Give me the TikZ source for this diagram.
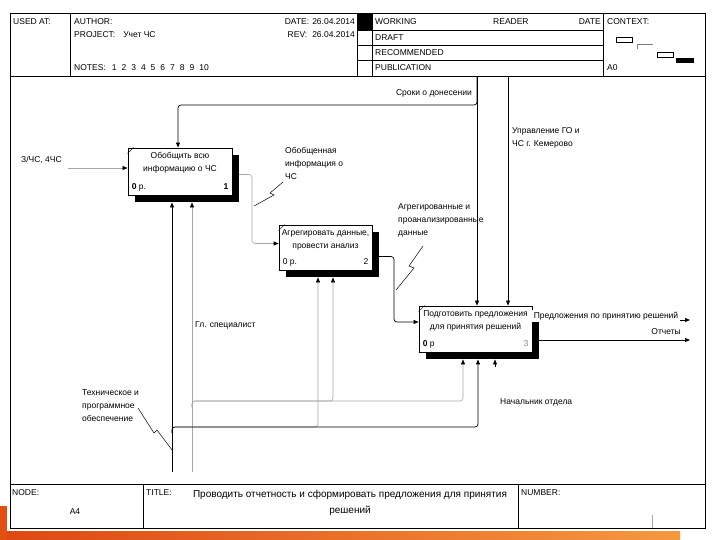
\documentclass[tikz,border=0pt]{standalone}
\usepackage{fontspec}
\setmainfont{Liberation Sans}
\usetikzlibrary{arrows.meta,calc,shadows}
\pgfdeclarelayer{lines}
\pgfsetlayers{lines,main}
\definecolor{orA}{RGB}{222,72,18}
\definecolor{orB}{RGB}{246,152,62}
\definecolor{orC}{RGB}{226,80,20}
\begin{document}
\begin{tikzpicture}[x=1pt,y=-1pt,
  font=\fontsize{8.5}{13}\selectfont,
  ln/.style={line width=0.7pt,draw=black},
  lt/.style={line width=0.6pt,draw=gray!70},
  arr/.style={-{Triangle[length=5pt,width=4pt,color=black]}},
  rc/.style={rounded corners=3pt},
  act/.style={draw,line width=0.9pt,fill=white,inner sep=0pt,
    general shadow={fill=black,shadow xshift=7pt,shadow yshift=-7pt}},
  lbl/.style={inner sep=1pt,align=left},
  hd/.style={inner sep=0pt,anchor=west},
  bt/.style={inner sep=0pt,anchor=north,align=center},
  frm/.style={line width=0.8pt,draw=black},
  lead/.style={line width=0.5pt,draw=black}]
\useasboundingbox (0,0) rectangle (720,540);

% ---------- frame ----------
\draw[frm] (10,13) rectangle (705,528);
\draw[frm] (10,76) -- (705,76);
\draw[frm] (10,484) -- (705,484);
\draw[frm] (70,13) -- (70,76);
\draw[frm] (357,13) -- (357,76);
\fill (357,13) rectangle (372,30.5);
\draw[frm] (372,13) -- (372,76);
\draw[frm] (357,30.5) -- (603,30.5);
\draw[frm] (357,45.5) -- (603,45.5);
\draw[frm] (357,60.5) -- (603,60.5);
\draw[frm] (603,13) -- (603,76);
\draw[frm] (143,484) -- (143,528);
\draw[frm] (518,484) -- (518,528);
\draw[gray!70,line width=0.5pt] (652,515) -- (652,528);

% context mini boxes
\draw[line width=0.6pt] (616,37) rectangle (632,42);
\draw[gray,line width=0.6pt] (637,49) -- (637,44) -- (653,44);
\draw[line width=0.6pt] (657,52) rectangle (673,57);
\fill (676,58) rectangle (694,63);

% header texts
\node[hd] (hused) at (13,22) {USED AT:};
\node[hd] (hauth) at (74,22) {AUTHOR:};
\node[hd] (hproj) at (74,35) {PROJECT:\hspace{8pt}Учет ЧС};
\node[hd] (hnotes) at (74,68) {NOTES:\hspace{6pt}1\hspace{5pt}2\hspace{5pt}3\hspace{5pt}4\hspace{5pt}5\hspace{5pt}6\hspace{5pt}7\hspace{5pt}8\hspace{5pt}9\hspace{5pt}10};
\node[inner sep=0pt,anchor=east] (hdate) at (355,22) {DATE:\hspace{3pt}26.04.2014};
\node[inner sep=0pt,anchor=east] (hrev) at (355,35) {REV:\hspace{5pt}26.04.2014};
\node[hd] (hwork) at (375,22) {WORKING};
\node[hd] (hread) at (493,22) {READER};
\node[inner sep=0pt,anchor=east] (hdt) at (601,22) {DATE};
\node[hd] (hdraft) at (375,38) {DRAFT};
\node[hd] (hrec) at (375,53) {RECOMMENDED};
\node[hd] (hpub) at (375,68) {PUBLICATION};
\node[hd] (hctx) at (607,22) {CONTEXT:};
\node[hd] (ha0) at (607,68) {A0};

% footer texts
\node[hd] (fnode) at (12,493) {NODE:};
\node[inner sep=0pt] (fa4) at (75,512) {A4};
\node[hd] (ftitle) at (146,493) {TITLE:};
\node[inner sep=0pt,anchor=north,align=center,font=\fontsize{10}{16}\selectfont] (ftext) at (350,490)
  {Проводить отчетность и сформировать предложения для принятия\\решений};
\node[hd] (fnum) at (521,493) {NUMBER:};

% ---------- activity boxes ----------
\node[act,minimum width=104pt,minimum height=47pt] (b1) at (180,171.5) {};
\node[act,minimum width=93pt,minimum height=45pt] (b2) at (325.5,247.5) {};
\node[act,minimum width=113pt,minimum height=46pt] (b3) at (475.5,329) {};

\foreach \b in {b1,b2,b3}{
  \draw[line width=0.5pt] ($(\b.north west)+(0,6)$) -- ($(\b.north west)+(6,0)$);
}
\node[inner sep=0pt,anchor=base west] (b1z) at ($(b1.south west)+(4,-6)$) {\textbf{0} р.};
\node[inner sep=0pt,anchor=base west] (b2z) at ($(b2.south west)+(4,-6)$) {0 р.};
\node[inner sep=0pt,anchor=base west] (b3z) at ($(b3.south west)+(4,-6)$) {\textbf{0} р};
\node[bt] (b1t) at ($(b1.north)+(0,5)$) {Обобщить всю\\информацию о ЧС};
\node[bt] (b2t) at ($(b2.north)+(0,5)$) {Агрегировать данные,\\провести анализ};
\node[bt] (b3t) at ($(b3.north)+(0,5)$) {Подготовить предложения\\для принятия решений};
\node[inner sep=0pt,anchor=base east] (b1k) at ($(b1.south east)+(-4,-6)$) {\textbf{1}};
\node[inner sep=0pt,anchor=base east] (b2k) at ($(b2.south east)+(-4,-6)$) {2};
\node[inner sep=0pt,anchor=base east,text=gray] (b3k) at ($(b3.south east)+(-4,-6)$) {3};

% ---------- labels ----------
\node[lbl,anchor=west] (l5) at (20,160) {З/ЧС, 4ЧС};
\node[lbl,anchor=east,fill=white] (l3) at (473,93) {Сроки о донесении};
\node[lbl,anchor=north west] (l4) at (511,126) {Управление ГО и\\ЧС г. Кемерово};
\node[lbl,anchor=north west] (l1) at (284,146) {Обобщенная\\информация о\\ЧС};
\node[lbl,anchor=north west] (l2) at (397,202) {Агрегированные и\\проанализированные\\данные};
\node[lbl,anchor=center,fill=white,inner sep=1.5pt] (l9) at (606,316) {Предложения по принятию решений};
\node[lbl,anchor=east] (l10) at (682,332) {Отчеты};
\node[lbl,anchor=west] (l6) at (194,325) {Гл. специалист};
\node[lbl,anchor=north west] (l7) at (81,388) {Техническое и\\программное\\обеспечение};
\node[lbl,anchor=west] (l8) at (499,402) {Начальник отдела};

% ---------- connectors ----------
\begin{pgfonlayer}{lines}
% input
\coordinate (i1) at (68,168);
\draw[lt,arr] (i1) -- (i1 -| b1.west);
% controls
\coordinate (c1) at (477,77);
\coordinate (c1b) at (178,105);
\draw[ln,arr] (c1) -- (c1 |- b3.north);
\draw[ln,rc,arr] (c1) |- (c1b) -- (c1b |- b1.north);
\coordinate (c2) at (508,77);
\draw[ln,arr] (c2) -- (c2 |- b3.north);
% b1 -> b2
\coordinate (o1) at ($(b1.east)+(0,3)$);
\coordinate (j12) at (252,0);
\coordinate (i2) at ($(b2.west)+(0,-4)$);
\draw[lt,rc,arr] (o1) -| (j12 |- i2) -- (i2);
% b2 -> b3
\coordinate (o2) at ($(b2.east)+(0,9)$);
\coordinate (j23) at (394,0);
\coordinate (i3) at ($(b3.west)+(0,-7)$);
\draw[ln,rc,arr] (o2) -| (j23 |- i3) -- (i3);
% outputs of b3
\coordinate (e1) at (690,320);
\coordinate (e2) at (690,340);
\draw[ln,arr] (e1 -| b3.east) -- (e1);
\draw[ln,arr] (e2 -| b3.east) -- (e2);
% mechanisms
\coordinate (s1) at ($(b1.south)+(0,7)$);
\coordinate (s2) at ($(b2.south)+(0,7)$);
\coordinate (s3) at ($(b3.south)+(0,7)$);
\coordinate (m1) at (172,472);
\coordinate (m1j) at (172,427);
\coordinate (m2) at (192,472);
\coordinate (m2j) at (192,401);
\coordinate (x318) at (318,0);
\coordinate (x333) at (333,0);
\coordinate (x463) at (463,0);
\coordinate (x478) at (478,0);
\coordinate (m3) at (495,367);
\draw[lt,arr] (m2) -- (m2 |- s1);
\draw[lt,rc,arr] ($(m2j)+(0,6)$) |- (x463 |- m2j) -- (x463 |- s3);
\draw[lt,rc,arr] ($(m2j)+(0,6)$) |- (x333 |- m2j) -- (x333 |- s2);
\draw[lt,rc,arr] ($(m1j)+(0,6)$) |- (x318 |- m1j) -- (x318 |- s2);
\draw[ln,arr] (m1) -- (m1 |- s1);
\draw[ln,rc,arr] ($(m1j)+(0,6)$) |- (x478 |- m1j) -- (x478 |- s3);
\draw[ln,arr] (m3) -- (m3 |- s3);
% label leaders
\draw[lead] (283,182) -- (270,193) -- (274,195) -- (254,206);
\draw[lead] (423,246) -- (409,266) -- (414,268) -- (396,290);
\draw[lead] (138,408) -- (154,433) -- (157,430) -- (172,450);
\end{pgfonlayer}

% ---------- slide decoration ----------
\shade[left color=orA,right color=orB] (0,531) rectangle (680,540);
\fill[orC] (0,506) rectangle (7,540);
\end{tikzpicture}
\end{document}
